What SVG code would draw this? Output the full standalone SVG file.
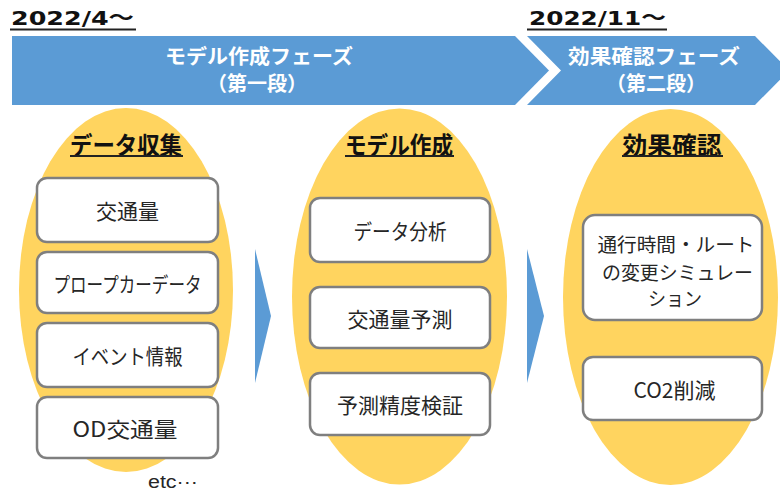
<svg xmlns="http://www.w3.org/2000/svg" width="780" height="493" viewBox="0 0 780 493">
<style>
.date{font-family:"DejaVu Sans","Noto Sans CJK JP",sans-serif;font-weight:bold;font-size:20px;fill:#111}
.uline{stroke:#222;stroke-width:1.8}
.band{fill:#5b9bd5}
.bandtxt{font-family:"Noto Sans CJK JP",sans-serif;font-weight:bold;font-size:20px;fill:#fff;text-anchor:middle}
.oval{fill:#ffd45f}
.head{font-family:"Noto Sans CJK JP",sans-serif;font-weight:bold;font-size:24px;fill:#111;text-anchor:middle;dominant-baseline:central}
.box{fill:#fff;stroke:#7f7f7f;stroke-width:2.5}
.lbl{font-family:"Noto Sans CJK JP",sans-serif;font-size:21px;fill:#262626;text-anchor:middle;dominant-baseline:central}
.lbl3{font-family:"Noto Sans CJK JP",sans-serif;font-size:19px;fill:#262626;text-anchor:middle;dominant-baseline:central}
.arr{fill:#5b9bd5}
</style>

<g id="dates">
<text class="date" x="11" y="25" textLength="123" lengthAdjust="spacingAndGlyphs">2022/4～</text>
<line class="uline" x1="10" y1="29.5" x2="136" y2="29.5"/>
<text class="date" x="529" y="25" textLength="137" lengthAdjust="spacingAndGlyphs">2022/11～</text>
<line class="uline" x1="527" y1="29.5" x2="667" y2="29.5"/>
</g>

<g id="phase1">
<polygon class="band" points="12,36 515,36 549,70.5 515,105 12,105"/>
<text class="bandtxt" x="259" y="64" textLength="188" lengthAdjust="spacingAndGlyphs">モデル作成フェーズ</text>
<text class="bandtxt" x="257" y="91">（第一段）</text>
</g>
<g id="phase2">
<polygon class="band" points="527,36 755,36 789,70.5 755,105 527,105 561,70.5"/>
<text class="bandtxt" x="654" y="64" textLength="172" lengthAdjust="spacingAndGlyphs">効果確認フェーズ</text>
<text class="bandtxt" x="656" y="91">（第二段）</text>
</g>

<g id="col-data">
<ellipse class="oval" cx="126" cy="290" rx="107" ry="182"/>
<text class="head" x="126" y="143" textLength="112" lengthAdjust="spacingAndGlyphs">データ収集</text>
<line class="uline" x1="70" y1="156" x2="183" y2="156"/>
</g>
<g id="box-traffic">
<rect class="box" x="37" y="178" width="181" height="64" rx="10"/>
<text class="lbl" x="127.5" y="210">交通量</text>
</g>
<g id="box-probe">
<rect class="box" x="37" y="252" width="181" height="61" rx="10"/>
<text class="lbl" x="127.5" y="282.5" textLength="148" lengthAdjust="spacingAndGlyphs">プロープカーデータ</text>
</g>
<g id="box-event">
<rect class="box" x="37" y="323" width="181" height="64" rx="10"/>
<text class="lbl" x="127.5" y="355" textLength="110" lengthAdjust="spacingAndGlyphs">イベント情報</text>
</g>
<g id="box-od">
<rect class="box" x="37" y="397" width="181" height="61" rx="10"/>
<text class="lbl" x="125" y="427.5" textLength="105" lengthAdjust="spacingAndGlyphs">OD交通量</text>
</g>
<text x="148" y="488" style="font-family:'Liberation Sans','Noto Sans CJK JP',sans-serif;font-size:18px;fill:#262626" textLength="50" lengthAdjust="spacingAndGlyphs">etc···</text>

<g id="col-model">
<ellipse class="oval" cx="399.5" cy="296.5" rx="107.5" ry="188"/>
<text class="head" x="399" y="143" textLength="108" lengthAdjust="spacingAndGlyphs">モデル作成</text>
<line class="uline" x1="345" y1="156" x2="454" y2="156"/>
</g>
<g id="box-analysis">
<rect class="box" x="310" y="198" width="180" height="64" rx="10"/>
<text class="lbl" x="400" y="230" textLength="93" lengthAdjust="spacingAndGlyphs">データ分析</text>
</g>
<g id="box-predict">
<rect class="box" x="310" y="287" width="180" height="61" rx="10"/>
<text class="lbl" x="400" y="317.5">交通量予測</text>
</g>
<g id="box-verify">
<rect class="box" x="310" y="373" width="180" height="62" rx="10"/>
<text class="lbl" x="400" y="404">予測精度検証</text>
</g>

<g id="col-effect">
<ellipse class="oval" cx="670.5" cy="297" rx="107.5" ry="188"/>
<text class="head" x="672" y="143" textLength="99" lengthAdjust="spacingAndGlyphs">効果確認</text>
<line class="uline" x1="622" y1="156" x2="723" y2="156"/>
</g>
<g id="box-sim">
<rect class="box" x="583" y="215" width="179" height="105" rx="12"/>
<text class="lbl3" x="676" y="243.5" textLength="157" lengthAdjust="spacingAndGlyphs">通行時間・ルート</text>
<text class="lbl3" x="677.5" y="271" textLength="151" lengthAdjust="spacingAndGlyphs">の変更シミュレー</text>
<text class="lbl3" x="675" y="297" textLength="54" lengthAdjust="spacingAndGlyphs">ション</text>
</g>
<g id="box-co2">
<rect class="box" x="583" y="357" width="179" height="63" rx="10"/>
<text class="lbl" x="674.5" y="388.5">CO2削減</text>
</g>

<g id="connectors">
<polygon class="arr" points="255,249 271,316 255,383"/>
<polygon class="arr" points="527,249 544,316 527,383"/>
</g>
</svg>
